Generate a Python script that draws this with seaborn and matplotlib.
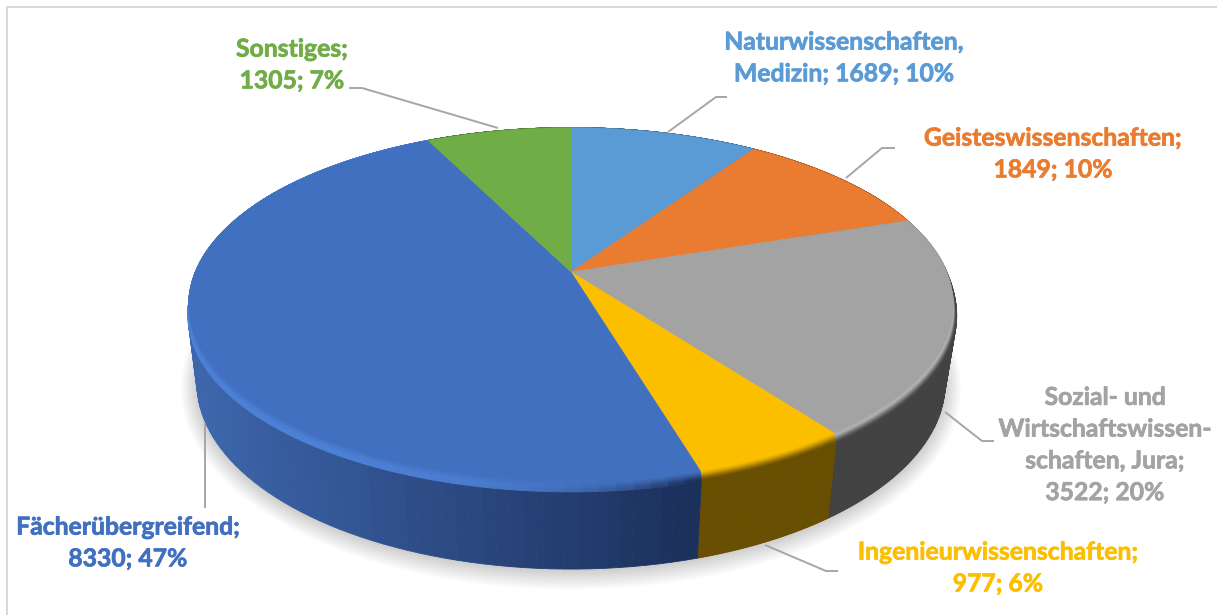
import matplotlib
matplotlib.use("Agg")
import matplotlib.pyplot as plt
import matplotlib.patheffects as pe
import seaborn as sns
import numpy as np
from matplotlib.colors import to_rgb

# Daten (im Uhrzeigersinn ab 12 Uhr)
values = [1689, 1849, 3522, 977, 8330, 1305]
labels = [
    "Naturwissenschaften,\nMedizin; 1689; 10%",
    "Geisteswissenschaften;\n1849; 10%",
    "Sozial- und\nWirtschaftswissen-\nschaften, Jura;\n3522; 20%",
    "Ingenieurwissenschaften;\n977; 6%",
    "Fächerübergreifend;\n8330; 47%",
    "Sonstiges;\n1305; 7%",
]
colors = ["#5B9BD5", "#E97C30", "#A3A3A3", "#FCBF00", "#4170C0", "#70AD47"]
side_left = ["#3A5F82", "#8A4A1C", "#454545", "#6B5000", "#3D66AC", "#43682B"]
side_right = ["#3A5F82", "#8A4A1C", "#404040", "#654C00", "#1C305C", "#43682B"]

label_pos = [(844, 58), (1053, 154), (1105, 445), (998, 568), (128, 543), (292, 65)]
leaders = [
    [(668, 132), (716, 97), (727, 97)],
    [(846, 178), (882, 148), (895, 148)],
    [(945, 412), (982, 441), (994, 441)],
    [(765, 545), (826, 571), (838, 571)],
    [(205, 423), (205, 508)],
    [(349, 88), (362, 88), (498, 128)],
]

sns.set_theme(style="white")
plt.rcParams["font.family"] = ["Lato", "DejaVu Sans"]

fig = plt.figure(figsize=(12.17, 6.15), dpi=100)
ax = fig.add_axes([0, 0, 1, 1])
ax.set_xlim(0, 1217)
ax.set_ylim(615, 0)
ax.axis("off")

# Perspektive der Scheibe
K = 0.194
CX = 571


def smooth(v):
    v = np.clip(v, 0, 1)
    return v * v * (3 - 2 * v)


def top_xy(theta):
    px, py = np.sin(theta), np.cos(theta)
    w = 1 + K * py
    return CX + 375 * px / w, 270 - 170 * py / w


def rim_xy(theta, t=1.0):
    px, py = np.sin(theta), np.cos(theta)
    x, y = top_xy(theta)
    s = smooth((0.5 - py) / 0.9)
    dx = np.where(px < 0, 1, 4)
    return x + dx * s * px * t, y + 11 * s * t


def bottom_xy(theta):
    px, py = np.sin(theta), np.cos(theta)
    w = 1 + K * py
    return CX + 367 * px / w, 347 - 179 * py / w


def mix(a, b, t):
    return tuple((1 - t) * np.array(to_rgb(a)) + t * np.array(to_rgb(b)))


edges = np.deg2rad(np.concatenate([[0], np.cumsum(values)]) / sum(values) * 360)
full = np.linspace(0, 2 * np.pi, 360)

# Schatten
for grow in np.linspace(16, 0, 16):
    bx, by = bottom_xy(full)
    ax.fill(CX + (bx - CX) * (1 + grow / 370), 347 + (by - 347) * (1 + grow / 190) + 2,
            color="black", alpha=0.012, lw=0, zorder=1)

# Seitenwand
for i in range(len(values)):
    th = np.linspace(edges[i], edges[i + 1], 100)
    for a, b in zip(th[:-1], th[1:]):
        x1, y1 = rim_xy(a)
        x2, y2 = rim_xy(b)
        x3, y3 = bottom_xy(b)
        x4, y4 = bottom_xy(a)
        frac = np.clip((x1 - 197) / 500, 0, 1) if i == 4 else 0.5
        c = mix(side_left[i], side_right[i], frac)
        ax.fill([x1, x2, x3, x4], [y1, y2, y3, y4], color=c, lw=0.6, zorder=2)

# Fase am Rand
bands = np.linspace(0, 1, 11)
for i in range(len(values)):
    th = np.linspace(edges[i], edges[i + 1], 80)
    for t0, t1 in zip(bands[:-1], bands[1:]):
        for a, b in zip(th[:-1], th[1:]):
            x1, y1 = rim_xy(a, t0)
            x2, y2 = rim_xy(b, t0)
            x3, y3 = rim_xy(b, t1)
            x4, y4 = rim_xy(a, t1)
            tm = (t0 + t1) / 2
            frac = np.clip((x1 - 197) / 500, 0, 1)
            side = mix(side_left[i], side_right[i], frac if i == 4 else 0.5)
            c = np.array(mix(colors[i], side, smooth(tm)))
            if i == 4:
                # links heller Grat, rechts dunkler werdend
                bright = np.array(mix(colors[i], "#4C80D6", min(1, tm * 1.6)))
                dark = np.array(mix(colors[i], side, smooth(tm)))
                c = bright * (1 - frac ** 4) + dark * frac ** 4
            if i == 2:
                c = np.array(mix(colors[i], side, smooth((tm - 0.25) / 0.75)))
                c = c + (1 - c) * 0.14 * np.sin(np.pi * min(1, tm * 2))
            ax.fill([x1, x2, x3, x4], [y1, y2, y3, y4], color=tuple(c), lw=0.6, zorder=3)

# Deckfläche
for i in range(len(values)):
    th = np.linspace(edges[i], edges[i + 1], 200)
    x, y = top_xy(th)
    ax.fill(np.r_[CX, x], np.r_[272, y], color=colors[i], lw=0.4, zorder=4)

# Führungslinien und Beschriftung
for pts in leaders:
    xs, ys = zip(*pts)
    ax.plot(xs, ys, color="#A6A6A6", lw=1.4, zorder=5, solid_capstyle="butt")

for txt, pos, c in zip(labels, label_pos, colors):
    t = ax.text(pos[0], pos[1], txt, color=c, fontsize=17.8, fontweight="bold",
                ha="center", va="center", linespacing=1.46, zorder=6)
    t.set_path_effects([pe.withStroke(linewidth=0.5, foreground=c)])

# Rahmen (oben und links sichtbar)
ax.plot([7, 7, 1217], [615, 6.5, 6.5], color="#D9D9D9", lw=1.5, zorder=0)

fig.savefig("out.png", dpi=100)
